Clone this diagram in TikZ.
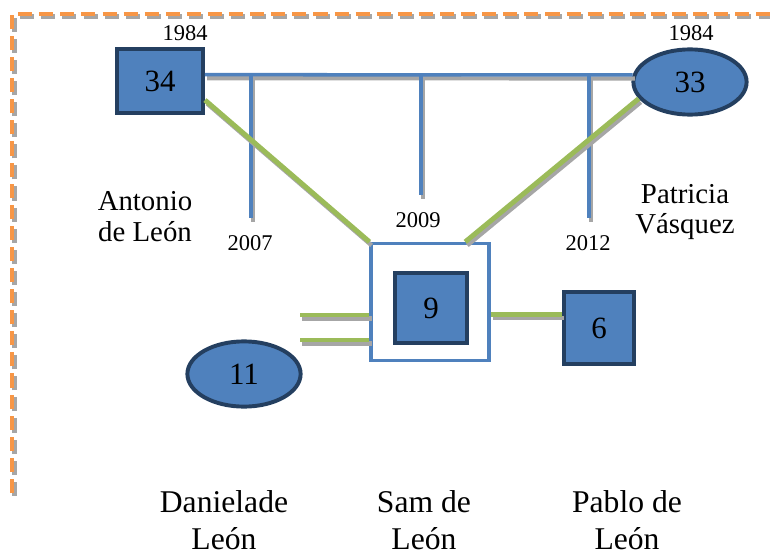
\documentclass[tikz,border=0pt]{standalone}
\usepackage{fontspec}
\setmainfont{Liberation Serif}
\usetikzlibrary{shapes.geometric}
\definecolor{boxblue}{HTML}{4F81BD}
\definecolor{boxedge}{HTML}{243F60}
\definecolor{linegreen}{HTML}{9BBB59}
\definecolor{lineorange}{HTML}{F79646}
\definecolor{shadowgray}{HTML}{A6A6A6}
\begin{document}
\begin{tikzpicture}[x=0.025cm,y=-0.025cm,
  male/.style={draw=boxedge,fill=boxblue,line width=2.8pt,font=\fontsize{22}{24}\selectfont},
  female/.style={ellipse,draw=boxedge,fill=boxblue,line width=2.8pt,minimum width=2.83cm,minimum height=1.63cm,font=\fontsize{22}{24}\selectfont},
  blueline/.style={draw=boxblue,line width=2.5pt},
  greenline/.style={draw=linegreen,line width=3.5pt},
  shadowline/.style={draw=shadowgray,line width=3pt,transform canvas={shift={(1.5pt,-2.5pt)}}},
  year/.style={font=\fontsize{16}{18}\selectfont,inner sep=0pt},
  who/.style={align=center,font=\fontsize{20.5}{22}\selectfont,inner sep=0pt},
  kid/.style={align=center,font=\fontsize{22.5}{26.5}\selectfont,inner sep=0pt}]
\useasboundingbox (0,0) rectangle (770,558);
\draw[shadowgray,line width=3.5pt,dash pattern=on 10 off 5,transform canvas={shift={(1.5pt,-2pt)}}] (12,493) -- (12,14) -- (775,14);
\draw[lineorange,line width=3.5pt,dash pattern=on 10 off 5] (12,493) -- (12,14) -- (775,14);
\node[male,minimum width=2.15cm,minimum height=1.58cm] (p34) at (160,81) {34};
\node[female] (p33) at (690,82) {33};
\node[draw=boxblue,fill=white,line width=2.2pt,minimum width=2.95cm,minimum height=2.93cm] (samout) at (430,302) {};
\node[male,minimum width=1.8cm,minimum height=1.75cm] (p9) at (431,308) {9};
\node[male,minimum width=1.75cm,minimum height=1.78cm] (p6) at (599,328) {6};
\node[female] (p11) at (244,374) {11};
\coordinate (d1) at (251,218);
\coordinate (d2) at (421,195);
\coordinate (d3) at (589,218);
\coordinate (l1) at (300,315);
\coordinate (l2) at (300,340);
\coordinate (r1) at ([yshift=-9pt]samout.east);
\draw[shadowline] (p34.8) -- (p33.173);
\draw[shadowline] (d1 |- p34.8) -- (d1);
\draw[shadowline] (d2 |- p34.8) -- (d2);
\draw[shadowline] (d3 |- p34.8) -- (d3);
\draw[blueline] (p34.8) -- (p33.173);
\draw[blueline] (d1 |- p34.8) -- (d1);
\draw[blueline] (d2 |- p34.8) -- (d2);
\draw[blueline] (d3 |- p34.8) -- (d3);
\draw[shadowline] (p34.-23) -- (samout.north west);
\draw[shadowline] (p33.198) -- ([xshift=-18pt]samout.north east);
\draw[shadowline] (r1) -- (r1 -| p6.west);
\draw[shadowline] (l1) -- (l1 -| samout.west);
\draw[shadowline] (l2) -- (l2 -| samout.west);
\draw[greenline] (p34.-23) -- (samout.north west);
\draw[greenline] (p33.198) -- ([xshift=-18pt]samout.north east);
\draw[greenline] (r1) -- (r1 -| p6.west);
\draw[greenline] (l1) -- (l1 -| samout.west);
\draw[greenline] (l2) -- (l2 -| samout.west);
\node[year] (y34) at (185,33) {1984};
\node[year] (y33) at (691,33) {1984};
\node[year] (y07) at (250,243) {2007};
\node[year] (y09) at (418,220) {2009};
\node[year] (y12) at (588,243) {2012};
\node[who] (n34) at (145,217) {Antonio\\de León};
\node[who] (n33) at (685,212) {Patricia\\Vásquez};
\node[kid] (n11) at (224,520) {Danielade\\León};
\node[kid] (n9) at (424,520) {Sam de\\León};
\node[kid] (n6) at (627,520) {Pablo de\\León};
\end{tikzpicture}
\end{document}
